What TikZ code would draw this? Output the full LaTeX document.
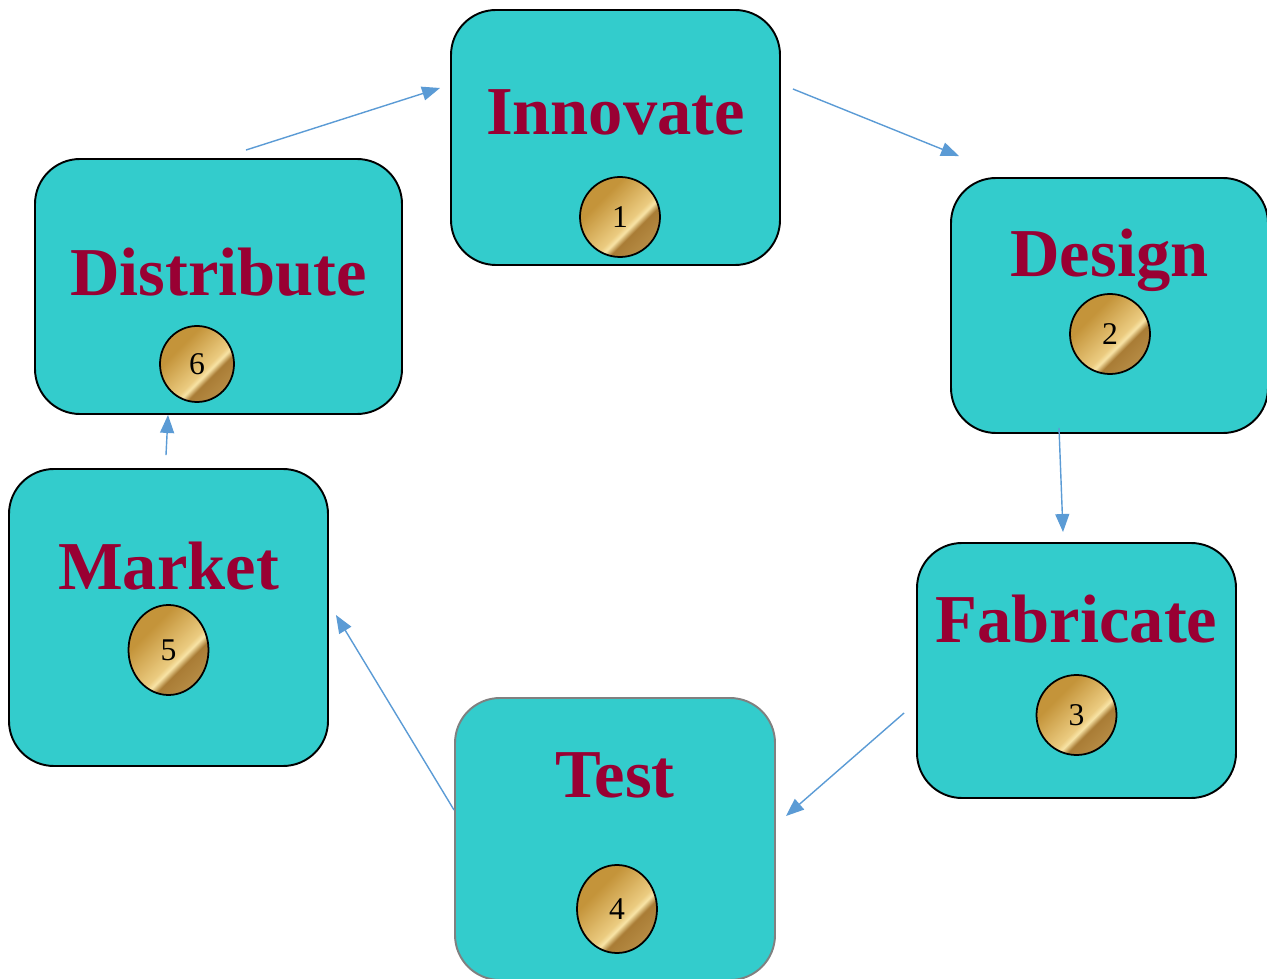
\documentclass[tikz,border=0pt]{standalone}
\usepackage{fontspec}
\setmainfont{Liberation Serif}
\usetikzlibrary{arrows.meta}
\usetikzlibrary{shapes.geometric}

\definecolor{stagefill}{HTML}{33CCCC}
\definecolor{stagetext}{HTML}{990033}
\definecolor{flowblue}{HTML}{5B9BD5}
\definecolor{goldA}{HTML}{C4943A}
\definecolor{goldB}{HTML}{EBCB80}
\definecolor{goldC}{HTML}{F8E4A6}
\definecolor{goldD}{HTML}{A97C35}
\definecolor{goldE}{HTML}{BA9049}

% gold coin with a diagonal shine
\pgfdeclarehorizontalshading{coin}{100bp}{color(0bp)=(goldA); color(34bp)=(goldA); color(56bp)=(goldB); color(59bp)=(goldC); color(63bp)=(goldD); color(78bp)=(goldE); color(100bp)=(goldE)}

\tikzset{
  stage/.style={draw=black, line width=1.1pt, fill=stagefill, rounded corners=0.9cm,
    inner sep=0pt, minimum height=5.1cm},
  title/.style={anchor=base, text=stagetext, font=\fontsize{39}{44}\selectfont\bfseries},
  coin/.style={ellipse, draw=black, line width=1pt, shading=coin, shading angle=-45,
    inner sep=0pt, minimum width=1.6cm, minimum height=1.6cm,
    font=\fontsize{18}{20}\selectfont},
  flow/.style={-{Triangle[length=0.36cm, width=0.28cm]}, draw=flowblue, line width=0.8pt}
}

\begin{document}
\begin{tikzpicture}
    \useasboundingbox (0,0) rectangle (25.34,19.56);

    %%% BOXES

    \node[stage, minimum width=6.58cm] (inno) at (12.31,16.81) {};
    \node[stage, minimum width=6.34cm] (design) at (22.19,13.45) {};
    \node[stage, minimum width=6.38cm] (fab) at (21.53,6.15) {};
    \node[stage, minimum width=6.40cm, minimum height=5.64cm, draw=gray] (test) at (12.30,2.78) {};
    \node[stage, minimum width=6.38cm, minimum height=5.94cm] (market) at (3.37,7.21) {};
    \node[stage, minimum width=7.34cm] (dist) at (4.37,13.83) {};

    % Titles
    \node[title] (innoT) at ([yshift=0.05cm]inno.center) {Innovate};
    \node[title] (designT) at ([yshift=0.57cm]design.center) {Design};
    \node[title] (fabT) at ([yshift=0.57cm]fab.center) {Fabricate};
    \node[title] (testT) at ([yshift=0.84cm]test.center) {Test};
    \node[title] (marketT) at ([yshift=0.55cm]market.center) {Market};
    \node[title] (distT) at ([yshift=-0.19cm]dist.center) {Distribute};

    % Coins
    \node[coin] (c1) at ([shift={(0.09,-1.59)}]inno.center) {1};
    \node[coin] (c2) at ([shift={(0.01,-0.57)}]design.center) {2};
    \node[coin] (c3) at ([shift={(0,-0.89)}]fab.center) {3};
    \node[coin, minimum height=1.76cm] (c4) at ([shift={(0.04,-1.40)}]test.center) {4};
    \node[coin, minimum height=1.8cm] (c5) at ([shift={(0,-0.65)}]market.center) {5};
    \node[coin, minimum width=1.48cm, minimum height=1.52cm] (c6) at ([shift={(-0.43,-1.55)}]dist.center) {6};

    %%% ARROWS

    \draw[flow] ([shift={(0.55,0.16)}]dist.north) -- ([shift={(-0.20,0.99)}]inno.west);
    \draw[flow] ([shift={(0.24,0.97)}]inno.east) -- ([shift={(0.18,0.42)}]design.north west);
    \draw[flow] ([shift={(-1.01,0.12)}]design.south) -- ([shift={(-0.27,0.20)}]fab.north);
    \draw[flow] ([shift={(-0.24,-0.85)}]fab.west) -- ([shift={(0.20,0.46)}]test.east);
    \draw[flow] ([shift={(0,0.58)}]test.west) -- ([shift={(0.14,0.05)}]market.east);
    \draw[flow] ([shift={(-0.05,0.26)}]market.north) -- ([shift={(-1.01,0)}]dist.south);
\end{tikzpicture}
\end{document}
